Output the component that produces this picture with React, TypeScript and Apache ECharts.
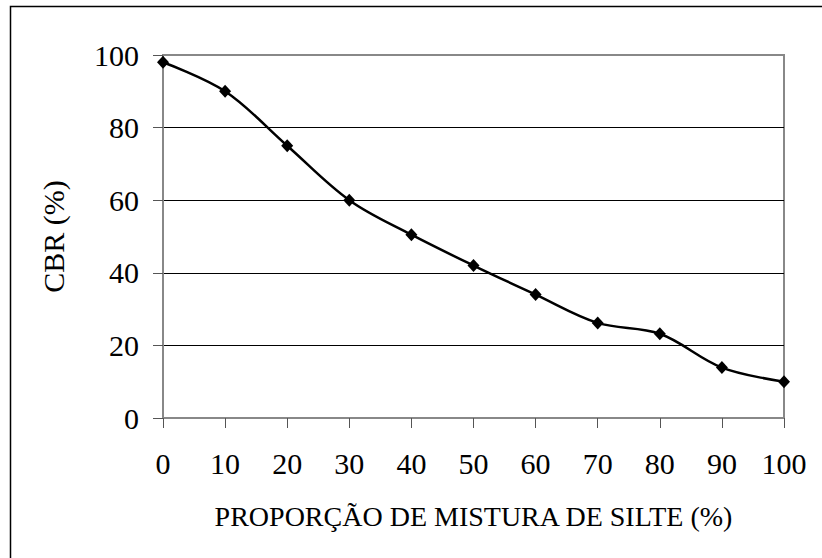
import React, { useEffect, useRef } from "react";
import * as echarts from "echarts";

const silte = [0, 10, 20, 30, 40, 50, 60, 70, 80, 90, 100];
const cbr = [98, 90, 75, 60, 50.5, 42, 34, 26.2, 23.2, 13.9, 10];
const xTitle = "PROPORÇÃO DE MISTURA DE SILTE (%)";
const yTitle = "CBR (%)";

export default function App() {
  const ref = useRef<HTMLDivElement>(null);
  useEffect(() => {
    if (!ref.current) return;
    const chart = echarts.init(ref.current, null, { renderer: "svg" });
    const font = "'Liberation Serif', 'Times New Roman', serif";
    chart.setOption({
      animation: false,
      backgroundColor: "#fff",
      textStyle: { fontFamily: font },
      grid: {
        left: 163,
        right: 38,
        top: 55,
        bottom: 140,
        show: true,
        borderColor: "#888",
        borderWidth: 2,
        backgroundColor: "transparent",
      },
      graphic: [
        {
          type: "rect",
          shape: { x: 10.5, y: 6.5, width: 900, height: 700 },
          style: { fill: "none", stroke: "#000", lineWidth: 1.5 },
          silent: true,
        },
      ],
      xAxis: {
        type: "value",
        min: 0,
        max: 100,
        interval: 10,
        name: xTitle,
        nameLocation: "middle",
        nameGap: 84,
        nameTextStyle: { fontFamily: font, fontSize: 28, color: "#000" },
        axisLine: { show: true, onZero: false, lineStyle: { color: "#888", width: 2 } },
        axisTick: { show: true, length: 10, lineStyle: { color: "#555", width: 1 } },
        axisLabel: { fontFamily: font, fontSize: 30, color: "#000", margin: 30 },
        splitLine: { show: false },
      },
      yAxis: {
        type: "value",
        min: 0,
        max: 100,
        interval: 20,
        name: yTitle,
        nameLocation: "middle",
        nameGap: 95,
        nameRotate: 90,
        nameTextStyle: { fontFamily: font, fontSize: 30, color: "#000" },
        axisLine: { show: true, lineStyle: { color: "#888", width: 2 } },
        axisTick: { show: true, length: 10, lineStyle: { color: "#555", width: 1 } },
        axisLabel: { fontFamily: font, fontSize: 30, color: "#000", margin: 24 },
        splitLine: {
          show: true,
          showMinLine: false,
          showMaxLine: false,
          lineStyle: { color: "#000", width: 1 },
        },
      },
      series: [
        {
          type: "line",
          data: silte.map((x, i) => [x, cbr[i]]),
          smooth: 0.35,
          symbol: "diamond",
          symbolSize: [12, 13],
          itemStyle: { color: "#000" },
          lineStyle: { color: "#000", width: 2.5 },
          z: 5,
        },
      ],
    });
    return () => chart.dispose();
  }, []);
  return (
    <div
      ref={ref}
      style={{ position: "fixed", left: 0, top: 0, width: 822, height: 558 }}
    />
  );
}
